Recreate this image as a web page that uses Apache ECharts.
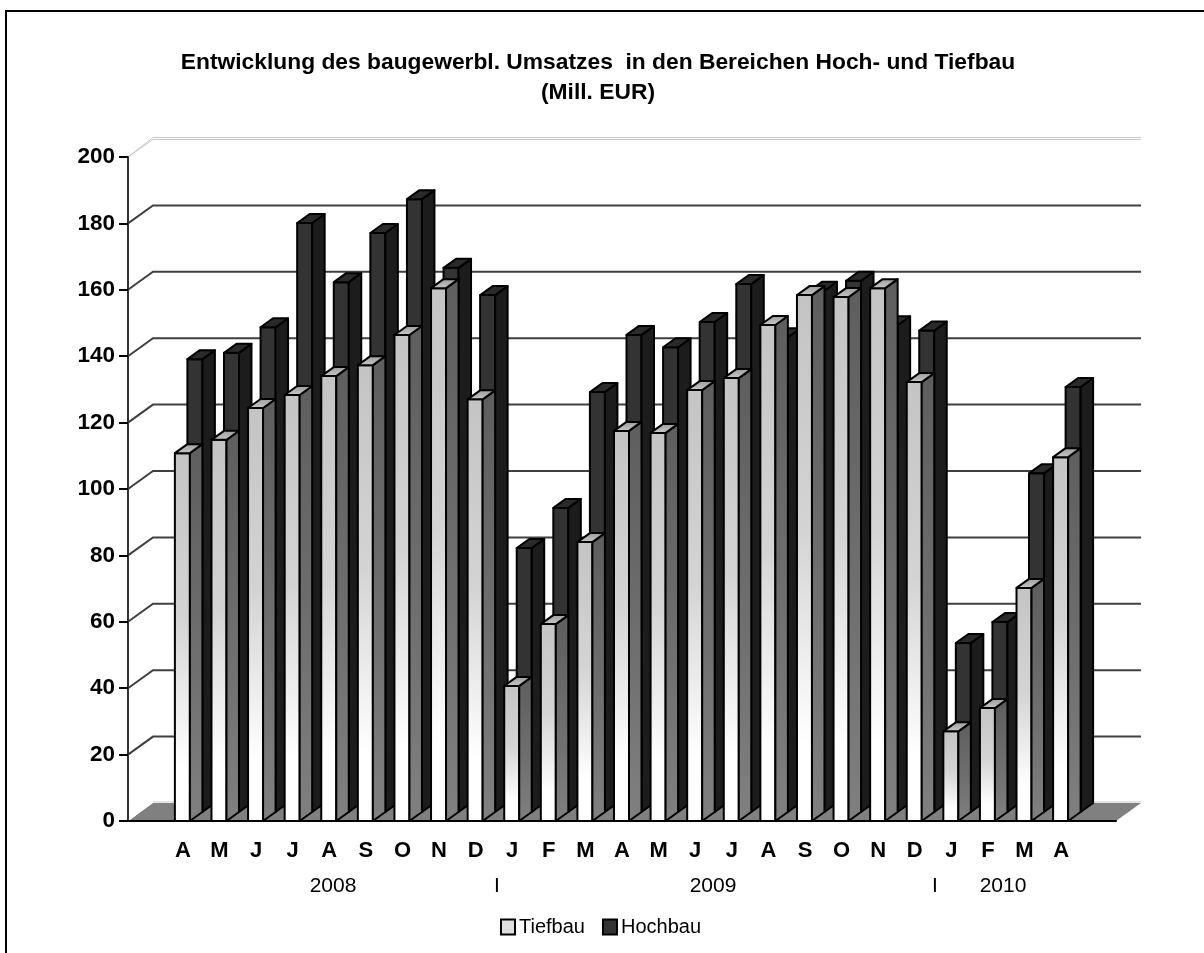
<!DOCTYPE html>
<html>
<head>
<meta charset="utf-8">
<script src="https://cdn.jsdelivr.net/npm/echarts@6/dist/echarts.min.js"></script>
<style>
  html, body { margin: 0; padding: 0; background: #fff; }
  #main { width: 1204px; height: 953px; }
</style>
</head>
<body>
<div id="main"></div>
<script>
var months = ['', 'A', 'M', 'J', 'J', 'A', 'S', 'O', 'N', 'D', 'J', 'F', 'M', 'A', 'M', 'J', 'J', 'A', 'S', 'O', 'N', 'D', 'J', 'F', 'M', 'A', ''];
var tiefbau = [null, 110.8, 114.8, 124.4, 128.3, 134, 137.3, 146.4, 160.5, 127, 40.7, 59.3, 84, 117.5, 116.9, 129.8, 133.4, 149.4, 158.4, 157.8, 160.5, 132.2, 27, 34, 70.2, 109.6, null];
var hochbau = [null, 136.4, 138.3, 146, 177.4, 159.6, 174.4, 184.6, 163.9, 155.7, 79.5, 91.6, 126.5, 143.7, 140, 147.6, 159, 143, 157, 160, 146.6, 145, 50.9, 57.2, 102, 128, null];
var gridValues = [0, 20, 40, 60, 80, 100, 120, 140, 160, 180, 200];

var myChart = echarts.init(document.getElementById('main'));

// depth of one row of bars in the fake 3d view
var stepX = 12.5, stepY = 9;
var font = '"Liberation Sans", Arial, sans-serif';

function poly(points, style) {
    return { type: 'polygon', shape: { points: points }, style: style };
}

function barRender(row, colors) {
    return function (params, api) {
        var idx = api.value(0), val = api.value(1);
        var base = api.coord([idx, 0]);
        var top = api.coord([idx, val]);
        var ox = stepX * row, oy = stepY * row;
        var x0 = base[0] - 8 + ox, x1 = x0 + 15;
        var y0 = base[1] - oy, y1 = top[1] - oy;
        var line = { stroke: '#000', lineWidth: 2, lineJoin: 'round' };
        return {
            type: 'group',
            children: [
                poly([[x0, y0], [x1, y0], [x1, y1], [x0, y1]], Object.assign({ fill: colors.front() }, line)),
                poly([[x1, y0], [x1 + stepX, y0 - stepY], [x1 + stepX, y1 - stepY], [x1, y1]], Object.assign({ fill: colors.side() }, line)),
                poly([[x0, y1], [x1, y1], [x1 + stepX, y1 - stepY], [x0 + stepX, y1 - stepY]], Object.assign({ fill: colors.top() }, line))
            ]
        };
    };
}

function grad(stops) {
    return new echarts.graphic.LinearGradient(0, 0, 0, 1, stops);
}

var tiefColors = {
    front: function () { return grad([{ offset: 0, color: '#c4c4c4' }, { offset: 0.45, color: '#d4d4d4' }, { offset: 0.85, color: '#ffffff' }, { offset: 1, color: '#ffffff' }]); },
    side: function () { return grad([{ offset: 0, color: '#5e5e5e' }, { offset: 0.6, color: '#707070' }, { offset: 1, color: '#808080' }]); },
    top: function () { return grad([{ offset: 0, color: '#999999' }, { offset: 1, color: '#cccccc' }]); }
};
var hochColors = {
    front: function () { return '#333333'; },
    side: function () { return '#1c1c1c'; },
    top: function () { return '#2a2a2a'; }
};

function wallRender(params, api) {
    var v = api.value(0);
    var first = api.coord([0, v]);
    var last = api.coord([months.length - 1, v]);
    var band = api.size([1, 0])[0];
    var d = 2 * stepX, h = 2 * stepY;
    var left = first[0] - band / 2, right = last[0] + band / 2;
    var y = first[1];
    if (v === 0) {
        return {
            type: 'group',
            children: [
                poly([[left, y], [right, y], [right + d, y - h], [left + d, y - h]], { fill: '#808080' }),
                { type: 'line', shape: { x1: left + d, y1: y - h - 1, x2: right + d, y2: y - h - 1 }, style: { stroke: '#c8c8c8', lineWidth: 1 } },
                { type: 'line', shape: { x1: left, y1: y, x2: left + d, y2: y - h - 1 }, style: { stroke: '#ffffff', lineWidth: 1 } }
            ]
        };
    }
    if (v === 200) {
        // top edge of the wall is a pale double line
        return {
            type: 'group',
            children: [
                { type: 'polyline', shape: { points: [[left, y], [left + d, y - h - 1.5], [right + d, y - h - 1.5]] }, style: { stroke: '#c8c8c8', lineWidth: 1, fill: 'none' } },
                { type: 'polyline', shape: { points: [[left, y], [left + d, y - h + 0.5], [right + d, y - h + 0.5]] }, style: { stroke: '#c8c8c8', lineWidth: 1, fill: 'none' } }
            ]
        };
    }
    return {
        type: 'group',
        children: [
            { type: 'polyline', shape: { points: [[left, y], [left + d, y - h], [right + d, y - h]] }, style: { stroke: '#404040', lineWidth: 2, fill: 'none' } }
        ]
    };
}

function yearText(label, x) {
    return { type: 'text', x: x, y: 886, style: { text: label, fontFamily: font, fontSize: 21, fill: '#000', textAlign: 'center', textVerticalAlign: 'middle' } };
}

var option = {
    animation: false,
    title: {
        text: 'Entwicklung des baugewerbl. Umsatzes  in den Bereichen Hoch- und Tiefbau\n(Mill. EUR)',
        left: 593,
        top: 43,
        textAlign: 'center',
        textStyle: { fontFamily: font, fontSize: 22.8, fontWeight: 'bold', color: '#000', lineHeight: 30 }
    },
    legend: {
        data: ['Tiefbau', 'Hochbau'],
        left: 495,
        top: 912,
        itemWidth: 14,
        itemHeight: 15,
        itemGap: 17,
        icon: 'rect',
        textStyle: { fontFamily: font, fontSize: 20, color: '#000', padding: [0, 0, 0, -1] }
    },
    grid: { left: 128, top: 157, width: 988, height: 664 },
    xAxis: {
        type: 'category',
        data: months,
        axisLine: { lineStyle: { color: '#000', width: 2 } },
        axisTick: { length: 12, lineStyle: { color: '#000', width: 2 } },
        axisLabel: { interval: 0, margin: 19, fontFamily: font, fontSize: 22, fontWeight: 'bold', color: '#000' },
        z: 20
    },
    yAxis: {
        type: 'value',
        min: 0,
        max: 200,
        interval: 20,
        axisLine: { show: true, lineStyle: { color: '#333', width: 2 } },
        axisTick: { show: true, length: 9, lineStyle: { color: '#000', width: 2 } },
        axisLabel: { margin: 13, fontFamily: font, fontSize: 22.5, fontWeight: 'bold', color: '#000' },
        splitLine: { show: false },
        z: 20
    },
    graphic: [
        { type: 'polyline', shape: { points: [[6, 953], [6, 11], [1204, 11]] }, style: { fill: 'none', stroke: '#000', lineWidth: 2 }, silent: true },
        yearText('2008', 333),
        yearText('I', 497),
        yearText('2009', 713),
        yearText('I', 935),
        yearText('2010', 1003)
    ],
    series: [
        {
            type: 'custom',
            name: 'walls',
            renderItem: wallRender,
            data: gridValues.map(function (v) { return [v]; }),
            encode: { y: 0 },
            clip: false,
            silent: true,
            z: 1
        },
        {
            type: 'custom',
            name: 'Hochbau',
            renderItem: barRender(1, hochColors),
            itemStyle: { color: '#333333', borderColor: '#000', borderWidth: 2 },
            data: hochbau.map(function (v, i) { return v === null ? null : [i, v]; }).filter(Boolean),
            encode: { x: 0, y: 1 },
            clip: false,
            z: 2
        },
        {
            type: 'custom',
            name: 'Tiefbau',
            renderItem: barRender(0, tiefColors),
            itemStyle: { color: '#dedede', borderColor: '#000', borderWidth: 2 },
            data: tiefbau.map(function (v, i) { return v === null ? null : [i, v]; }).filter(Boolean),
            encode: { x: 0, y: 1 },
            clip: false,
            z: 3
        }
    ]
};

myChart.setOption(option);
</script>
</body>
</html>
